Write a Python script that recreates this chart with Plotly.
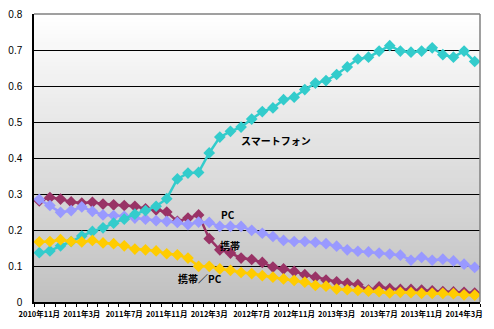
import plotly.graph_objects as go

# Monthly share by device, Nov 2010 - Apr 2014
start_year, start_month, n_months = 2010, 11, 42
months = []
yy, mm = start_year, start_month
for _ in range(n_months):
    months.append(f"{yy}年{mm}月")
    mm += 1
    if mm > 12:
        mm, yy = 1, yy + 1

smartphone = [0.137, 0.142, 0.156, 0.168, 0.183, 0.196, 0.206, 0.219, 0.230, 0.244,
              0.254, 0.266, 0.287, 0.342, 0.358, 0.360, 0.414, 0.458, 0.474, 0.486,
              0.508, 0.529, 0.539, 0.562, 0.569, 0.590, 0.608, 0.615, 0.632, 0.653,
              0.675, 0.680, 0.697, 0.712, 0.697, 0.694, 0.697, 0.706, 0.687, 0.680,
              0.697, 0.668]
keitai = [0.281, 0.290, 0.286, 0.278, 0.275, 0.277, 0.272, 0.270, 0.268, 0.266,
          0.259, 0.256, 0.250, 0.224, 0.233, 0.242, 0.176, 0.145, 0.136, 0.122,
          0.118, 0.110, 0.097, 0.092, 0.085, 0.076, 0.069, 0.061, 0.056, 0.052,
          0.048, 0.033, 0.042, 0.037, 0.035, 0.035, 0.033, 0.031, 0.029, 0.028,
          0.027, 0.025]
pc = [0.285, 0.268, 0.249, 0.254, 0.264, 0.252, 0.242, 0.240, 0.238, 0.233,
      0.230, 0.226, 0.224, 0.221, 0.215, 0.222, 0.221, 0.210, 0.210, 0.210,
      0.199, 0.191, 0.182, 0.171, 0.168, 0.168, 0.166, 0.162, 0.155, 0.145,
      0.141, 0.139, 0.136, 0.133, 0.130, 0.116, 0.124, 0.116, 0.119, 0.114,
      0.105, 0.096]
keitai_pc = [0.167, 0.168, 0.173, 0.168, 0.167, 0.171, 0.164, 0.162, 0.156, 0.147,
             0.145, 0.142, 0.134, 0.131, 0.122, 0.099, 0.099, 0.092, 0.088, 0.082,
             0.079, 0.073, 0.069, 0.064, 0.060, 0.055, 0.046, 0.044, 0.036, 0.034,
             0.032, 0.030, 0.029, 0.025, 0.027, 0.026, 0.024, 0.024, 0.024, 0.023,
             0.020, 0.019]

tick_labels = ["2010年11月", "2011年3月", "2011年7月", "2011年11月", "2012年3月",
               "2012年7月", "2012年11月", "2013年3月", "2013年7月", "2013年11月",
               "2014年3月"]
tick_positions = [months.index(t) for t in tick_labels]

series = [
    ("携帯", keitai, "#993366"),
    ("PC", pc, "#9999FF"),
    ("スマートフォン", smartphone, "#33CCCC"),
    ("携帯／PC", keitai_pc, "#FFCC00"),
]

x = list(range(len(months)))
fig = go.Figure()
for name, vals, color in series:
    fig.add_trace(go.Scatter(
        x=x, y=vals, name=name, mode="lines+markers",
        text=months, hovertemplate="%{text}: %{y}<extra>" + name + "</extra>",
        line=dict(color=color, width=2.5),
        marker=dict(symbol="diamond", size=9, color=color, line=dict(width=0)),
    ))

# vertical white-to-gray gradient behind the plot area
shapes = []
n_strips = 72
top_c, bot_c = 255, 192
for k in range(n_strips):
    f = (k + 0.5) / n_strips
    c = round(top_c - f * (top_c - bot_c))
    shapes.append(dict(type="rect", xref="x domain", yref="y domain",
                       x0=0, x1=1, y0=1 - (k + 1) / n_strips, y1=1 - k / n_strips,
                       fillcolor=f"rgb({c},{c},{c})", line=dict(width=0), layer="below"))
# gray frame at top and right
shapes.append(dict(type="line", xref="x domain", yref="y domain", x0=0, x1=1, y0=1, y1=1,
                   line=dict(color="#808080", width=1.5), layer="above"))
shapes.append(dict(type="line", xref="x domain", yref="y domain", x0=1, x1=1, y0=0, y1=1,
                   line=dict(color="#808080", width=1.5), layer="above"))

label_font = dict(family="Noto Sans CJK JP", size=10, color="black", weight="bold")
annotations = [
    dict(x=22.3, y=0.448, text="スマートフォン"),
    dict(x=17.8, y=0.243, text="PC"),
    dict(x=18.0, y=0.158, text="携帯"),
    dict(x=15.1, y=0.064, text="携帯／PC"),
]
for a in annotations:
    a.update(xref="x", yref="y", showarrow=False, font=label_font)

fig.update_layout(
    width=494, height=329,
    margin=dict(l=34, r=14, t=14, b=27),
    paper_bgcolor="white", plot_bgcolor="white",
    showlegend=False,
    shapes=shapes, annotations=annotations,
    xaxis=dict(
        range=[-0.5, len(months) - 0.5], automargin=False,
        tickmode="array", tickvals=tick_positions, ticktext=tick_labels,
        ticks="", showgrid=False, zeroline=False,
        showline=True, linecolor="black", linewidth=1.5,
        tickfont=dict(family="Noto Sans CJK JP", size=7.5, color="black", weight="bold"),
        ticklabelstandoff=4,
        minor=dict(tickmode="linear", tick0=-0.5, dtick=1, ticks="outside",
                   ticklen=3, tickcolor="black", tickwidth=1, showgrid=False),
    ),
    yaxis=dict(
        range=[0, 0.8], dtick=0.1, tick0=0, automargin=False,
        showgrid=True, gridcolor="black", gridwidth=1,
        zeroline=False, showline=True, linecolor="black", linewidth=1.5,
        ticks="", ticklabelstandoff=8,
        tickfont=dict(family="Liberation Sans", size=10, color="black"),
    ),
)

fig.write_html("out.html")
